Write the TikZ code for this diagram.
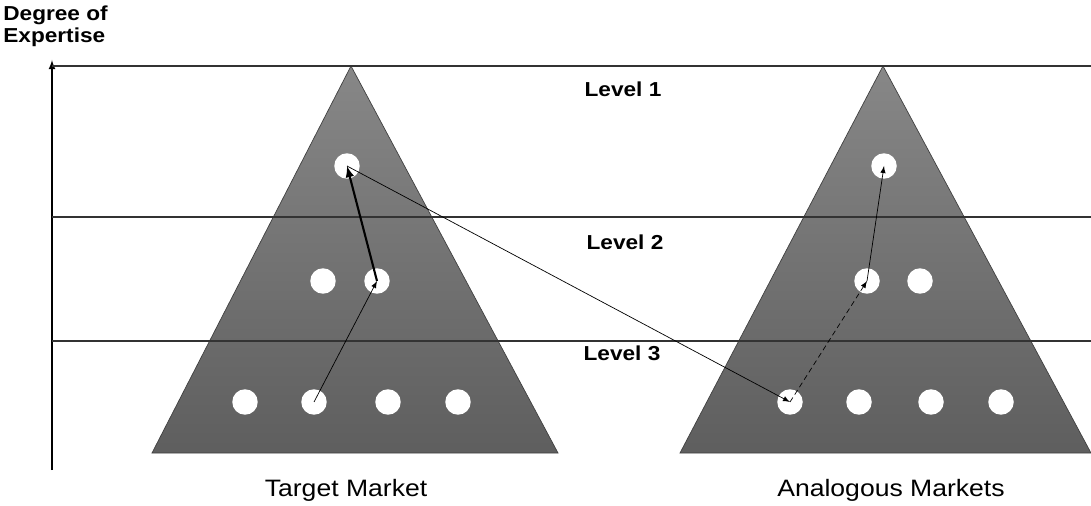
\documentclass[tikz,border=0pt]{standalone}
\usepackage{fontspec}
\setmainfont{Liberation Sans}[FakeStretch=1.12]
\begin{document}
\begin{tikzpicture}[x=0.02cm, y=-0.02cm, every node/.style={font=\fontsize{11.5}{12.5}\selectfont\bfseries},
  dot/.style={circle, fill=white, inner sep=0pt, minimum size=14.5pt},
  level/.style={font=\fontsize{11.5}{12}\selectfont\bfseries},
  market/.style={font=\fontsize{13.5}{15}\selectfont}]
    \useasboundingbox (0,0) rectangle (1091,506);
    % the two pyramids
    \shade [top color=black!47, bottom color=black!63, draw=black!75] (351,66) -- (558,453) -- (152,453) -- cycle;
    \shade [top color=black!47, bottom color=black!63, draw=black!75] (883,66) -- (1091,453) -- (680,453) -- cycle;
    % levels
    \coordinate (O) at (52,470);
    \coordinate (top) at (52,60);
    \draw [thick, -latex] (O) -- (top);
    \draw [thick, black!80] (52,66) -- (1091,66);
    \draw [thick, black!80] (52,217) -- (1091,217);
    \draw [thick, black!80] (52,341) -- (1091,341);
    \node [level] (L1) at (623,89) {Level 1};
    \node [level] (L2) at (625,242) {Level 2};
    \node [level] (L3) at (622,353) {Level 3};
    \node [align=left, anchor=north west, inner sep=0pt] (axis) at (3,6) {Degree of\\Expertise};
    % target market
    \node [dot] (T1) at (347,166) {};
    \node [dot] (T2a) at (323,281) {};
    \node [dot] (T2b) at (377,281) {};
    \node [dot] (T3a) at (245,402) {};
    \node [dot] (T3b) at (314,402) {};
    \node [dot] (T3c) at (388,402) {};
    \node [dot] (T3d) at (458,402) {};
    % analogous markets
    \node [dot] (A1) at (884,166) {};
    \node [dot] (A2a) at (867,281) {};
    \node [dot] (A2b) at (920,281) {};
    \node [dot] (A3a) at (790,402) {};
    \node [dot] (A3b) at (859,402) {};
    \node [dot] (A3c) at (931,402) {};
    \node [dot] (A3d) at (1001,402) {};
    \node [market] (TM) at (346,490) {Target Market};
    \node [market] (AM) at (891,490) {Analogous Markets};
    % paths
    \path [-latex, thin] (T3b.center) edge (T2b.center);
    \path [-latex, very thick] (T2b.center) edge (T1.center);
    \path [-latex, thin] (T1.center) edge (A3a.center);
    \path [-latex, thin, densely dashed] (A3a.center) edge (A2a.center);
    \path [-latex, thin] (A2a.center) edge (A1.center);
\end{tikzpicture}
\end{document}
